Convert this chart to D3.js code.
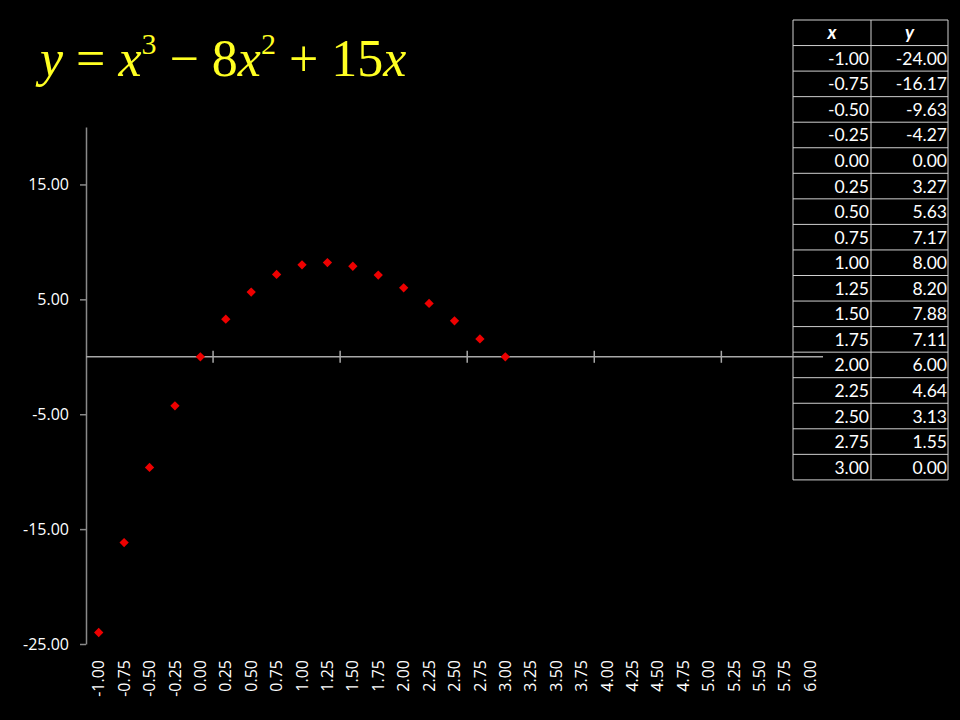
<!DOCTYPE html>
<html><head><meta charset="utf-8">
<script src="https://cdn.jsdelivr.net/npm/d3@7/dist/d3.min.js"></script>
<style>html,body{margin:0;padding:0;background:#000;}svg{display:block;}</style>
</head><body>
<script>
const categories = ["-1.00","-0.75","-0.50","-0.25","0.00","0.25","0.50","0.75","1.00","1.25","1.50","1.75","2.00","2.25","2.50","2.75","3.00","3.25","3.50","3.75","4.00","4.25","4.50","4.75","5.00","5.25","5.50","5.75","6.00"];
const tableX = ["-1.00","-0.75","-0.50","-0.25","0.00","0.25","0.50","0.75","1.00","1.25","1.50","1.75","2.00","2.25","2.50","2.75","3.00"];
const yValues = [-24.00,-16.17,-9.63,-4.27,0.00,3.27,5.63,7.17,8.00,8.20,7.88,7.11,6.00,4.64,3.13,1.55,0.00];
const yTicks = [-25,-15,-5,5,15];
const yDomain = [-25,20];

const W=960,H=720;
const svg=d3.select("body").append("svg").attr("width",W).attr("height",H).style("background","#000");
svg.append("rect").attr("width",W).attr("height",H).attr("fill","#000");

const x=d3.scaleBand().domain(categories).range([86,823]).padding(0);
const y=d3.scaleLinear().domain(yDomain).range([644,127]);
const f2=d3.format(".2f");
const fmt=v=>f2(v).replace("\u2212","-");

// table
const tb=svg.append("g").attr("font-family","Lato, 'Open Sans', sans-serif").attr("font-size",17.5).attr("fill","#fff");
const tx0=793,tx1=871,tx2=948,ty0=20,rh=25.55;
const nRows=tableX.length+1;
for(let i=0;i<=nRows;i++){
  tb.append("line").attr("x1",tx0).attr("x2",tx2).attr("y1",ty0+i*rh).attr("y2",ty0+i*rh).attr("stroke","#d0d0d0").attr("stroke-width",1);
}
[tx0,tx1,tx2].forEach(v=>tb.append("line").attr("x1",v).attr("x2",v).attr("y1",ty0).attr("y2",ty0+nRows*rh).attr("stroke","#d0d0d0").attr("stroke-width",1));
tb.append("text").attr("x",(tx0+tx1)/2).attr("y",ty0+rh/2+6).attr("text-anchor","middle").attr("font-weight","bold").attr("font-style","italic").attr("font-size",18.5).text("x");
tb.append("text").attr("x",(tx1+tx2)/2).attr("y",ty0+rh/2+6).attr("text-anchor","middle").attr("font-weight","bold").attr("font-style","italic").attr("font-size",18.5).text("y");
tableX.forEach((v,i)=>{
  const yy=ty0+(i+1)*rh+rh/2+6.5;
  tb.append("text").attr("x",tx1-2).attr("y",yy).attr("text-anchor","end").text(v);
  tb.append("text").attr("x",tx2-1).attr("y",yy).attr("text-anchor","end").text(fmt(yValues[i]));
});

// y axis
const gy=svg.append("g").attr("transform","translate(86,0)")
  .call(d3.axisLeft(y).tickValues(yTicks).tickFormat(fmt).tickSize(6).tickSizeOuter(0));
gy.select(".domain").attr("stroke","#8a8a8a").attr("stroke-width",1.5);
gy.selectAll(".tick line").attr("stroke","#8a8a8a").attr("stroke-width",1.5);
gy.selectAll(".tick text").attr("fill","#fff").attr("font-size",16).attr("font-family","'Open Sans', Lato, sans-serif").attr("x",-17);

// x axis line at y=0
const y0=y(0);
svg.append("line").attr("x1",86).attr("x2",823).attr("y1",y0).attr("y2",y0).attr("stroke","#a8a8a8").attr("stroke-width",1.5);
[5,10,15,20,25].forEach(i=>{
  const xx=x(categories[i]);
  svg.append("line").attr("x1",xx).attr("x2",xx).attr("y1",y0-6).attr("y2",y0+6).attr("stroke","#a8a8a8").attr("stroke-width",1.5);
});
// x labels
const gx=svg.append("g").attr("transform","translate(0,644)")
  .call(d3.axisBottom(x).tickSize(0).tickSizeOuter(0));
gx.select(".domain").remove();
gx.selectAll(".tick text").attr("fill","#fff").attr("font-size",16).attr("font-family","'Open Sans', Lato, sans-serif")
  .attr("transform","rotate(-90)").attr("text-anchor","end").attr("x",-16).attr("y",0).attr("dy","0.35em");

// points
const sym=d3.symbol().type(d3.symbolDiamond2).size(55);
svg.append("g").selectAll("path").data(yValues).join("path")
  .attr("d",sym)
  .attr("transform",(d,i)=>`translate(${x(tableX[i])+x.bandwidth()/2},${y(d)})`)
  .attr("fill","#ee0000");

// title
const t=svg.append("text").attr("x",40).attr("y",76).attr("fill","#ffff22").attr("font-family","'Liberation Serif','DejaVu Serif',serif").attr("font-size",52);
t.append("tspan").attr("font-style","italic").text("y");
t.append("tspan").text(" = ");
t.append("tspan").attr("font-style","italic").text("x");
t.append("tspan").attr("font-size",30).attr("dy",-22).text("3");
t.append("tspan").attr("dy",22).text(" \u2212 8");
t.append("tspan").attr("font-style","italic").text("x");
t.append("tspan").attr("font-size",30).attr("dy",-22).text("2");
t.append("tspan").attr("dy",22).text(" + 15");
t.append("tspan").attr("font-style","italic").text("x");
</script>
</body></html>
